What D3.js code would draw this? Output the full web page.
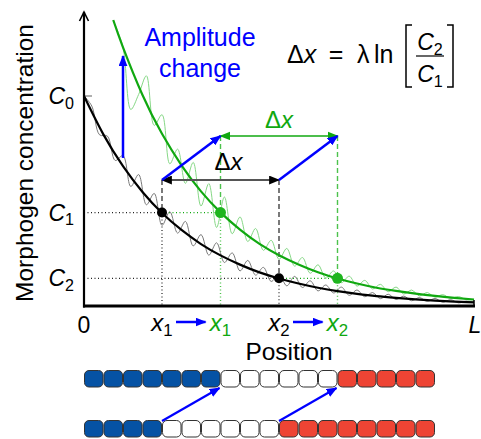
<!DOCTYPE html>
<html>
<head>
<meta charset="utf-8">
<script src="https://cdn.jsdelivr.net/npm/d3@7"></script>
<style>
  body { margin: 0; background: #fff; }
  svg { display: block; font-family: "Liberation Sans", Arial, sans-serif; }
</style>
</head>
<body>
<svg class="chart" width="481" height="439"></svg>
<script>
/*
      Data
*/
const levelNames = ["0", "1", "2"];
const levels = [1, 0.445, 0.132]; // C0, C1, C2
const xMarks = [0.2, 0.5]; // x1, x2
const shift = 0.15; // delta x

const smoothX = [0, 0.05, 0.1, 0.15, 0.2, 0.25, 0.3, 0.35, 0.4, 0.45, 0.5, 0.55, 0.6, 0.65, 0.7, 0.75, 0.8, 0.85, 0.9, 0.95, 1];
const blackSmooth = [1.0, 0.816, 0.666, 0.543, 0.443, 0.362, 0.295, 0.241, 0.197, 0.16, 0.131, 0.107, 0.087, 0.071, 0.058, 0.047, 0.039, 0.032, 0.026, 0.021, 0.017];
const greenSmoothX = [0.075, 0.1, 0.15, 0.2, 0.25, 0.3, 0.35, 0.4, 0.45, 0.5, 0.55, 0.6, 0.65, 0.7, 0.75, 0.8, 0.85, 0.9, 0.95, 1];
const greenSmooth = [1.362, 1.232, 1.005, 0.82, 0.67, 0.546, 0.446, 0.364, 0.296, 0.242, 0.198, 0.161, 0.131, 0.107, 0.087, 0.072, 0.059, 0.048, 0.039, 0.031];

// noisy profiles, sampled every 0.02 of the length
const noiseStep = 0.02;
const grayNoisy = [1.0, 0.952, 0.815, 0.809, 0.693, 0.716, 0.569, 0.626, 0.482, 0.536, 0.384, 0.449, 0.347, 0.403, 0.286, 0.34, 0.242, 0.301, 0.207, 0.253, 0.167, 0.217, 0.147, 0.184, 0.117, 0.151, 0.096, 0.141, 0.088, 0.12, 0.072, 0.1, 0.062, 0.09, 0.051, 0.076, 0.044, 0.064, 0.035, 0.056, 0.031, 0.047, 0.025, 0.04, 0.022, 0.036, 0.018, 0.03, 0.015, 0.023, 0.017];
const greenNoisyStart = 4;
const greenNoisy = [1.338, 1.232, 0.936, 1.007, 1.096, 0.86, 0.911, 0.677, 0.747, 0.584, 0.684, 0.476, 0.583, 0.374, 0.519, 0.344, 0.424, 0.307, 0.369, 0.265, 0.313, 0.222, 0.274, 0.19, 0.231, 0.156, 0.196, 0.133, 0.167, 0.111, 0.142, 0.095, 0.122, 0.081, 0.103, 0.068, 0.09, 0.057, 0.076, 0.048, 0.064, 0.042, 0.054, 0.036, 0.045, 0.03, 0.031];

// cell rows: counts of blue / white / red cells
const cellWidth = 0.05;
const rowBefore = [7, 6, 5];
const rowAfter = [4, 6, 8];

/*
      Styles
*/
const BLUE = "#0000ff";
const GREEN = "#10a810";
const LIGHT_GREEN = "#86d886";
const GRAY = "#7a7a7a";
const cellColors = ["#0552a4", "#ffffff", "#ee4434"];

const svg = d3.select(".chart");
const x = d3.scaleLinear().domain([0, 1]).range([84, 474]);
const y = d3.scaleLinear().domain([0, 1]).range([306, 96]);

// markers
const defs = svg.append("defs");
function addMarker(id, color) {
  defs
    .append("marker")
    .attr("id", id)
    .attr("viewBox", "0 0 10 8")
    .attr("markerUnits", "userSpaceOnUse")
    .attr("markerWidth", 11)
    .attr("markerHeight", 9)
    .attr("refX", 9)
    .attr("refY", 4)
    .attr("orient", "auto-start-reverse")
    .append("path")
    .attr("d", "M0,0 L10,4 L0,8 Z")
    .attr("fill", color);
}
addMarker("head-blue", BLUE);
addMarker("head-black", "#000");
addMarker("head-green", GREEN);

const g = svg.append("g");

/*
      Guides
*/
function vline(xv, y1, y2, color, dash, w) {
  g.append("line")
    .attr("x1", xv).attr("x2", xv).attr("y1", y1).attr("y2", y2)
    .attr("stroke", color).attr("stroke-width", w || 1.2)
    .attr("stroke-dasharray", dash);
}
function hline(yv, x1, x2, color, dash) {
  g.append("line")
    .attr("x1", x1).attr("x2", x2).attr("y1", yv).attr("y2", yv)
    .attr("stroke", color).attr("stroke-width", 1.2)
    .attr("stroke-dasharray", dash);
}

const yBlackArrow = y(0.6);
const yGreenArrow = y(0.81);

xMarks.forEach((xm, i) => {
  const lv = levels[i + 1];
  hline(y(lv), x(0), x(xm), "#222", "1,2.5");
  hline(y(lv), x(xm), x(xm + shift), GREEN, "1,2.5");
  vline(x(xm), yBlackArrow, y(lv), "#222", "5,3");
  vline(x(xm), y(lv), y(0), "#222", "1,2.5");
  vline(x(xm + shift), yGreenArrow, y(lv), "#4cc24c", "5,3", 1.4);
  vline(x(xm + shift), y(lv), y(0), "#4cc24c", "1,2.5", 1.4);
});

// C0 tick
hline(y(1), x(0), x(0) + 8, GRAY, null);

/*
      Profiles
*/
const noisyLine = d3.line().x((d) => x(d[0])).y((d) => y(d[1])).curve(d3.curveCatmullRom);
const smoothLine = d3.line().x((d) => x(d[0])).y((d) => y(d[1])).curve(d3.curveNatural);

g.append("path")
  .attr("d", noisyLine(grayNoisy.map((v, i) => [i * noiseStep, v])))
  .attr("fill", "none").attr("stroke", GRAY).attr("stroke-width", 1);
g.append("path")
  .attr("d", noisyLine(greenNoisy.map((v, i) => [(i + greenNoisyStart) * noiseStep, v])))
  .attr("fill", "none").attr("stroke", LIGHT_GREEN).attr("stroke-width", 1);

g.append("path")
  .attr("d", smoothLine(smoothX.map((v, i) => [v, blackSmooth[i]])))
  .attr("fill", "none").attr("stroke", "#000").attr("stroke-width", 2.2);
g.append("path")
  .attr("d", smoothLine(greenSmoothX.map((v, i) => [v, greenSmooth[i]])))
  .attr("fill", "none").attr("stroke", GREEN).attr("stroke-width", 2.2);

/*
      Axes
*/
g.append("line")
  .attr("x1", x(0)).attr("x2", x(0)).attr("y1", y(0) + 1.5).attr("y2", y(1.4))
  .attr("stroke", "#000").attr("stroke-width", 2.2);
g.append("path")
  .attr("d", `M${x(0) - 4.5},${y(1.4) + 9} L${x(0)},${y(1.4)} L${x(0) + 4.5},${y(1.4) + 9}`)
  .attr("fill", "none").attr("stroke", "#000").attr("stroke-width", 1.6);
g.append("line")
  .attr("x1", x(0) - 1).attr("x2", x(1) + 1).attr("y1", y(0)).attr("y2", y(0))
  .attr("stroke", "#000").attr("stroke-width", 3);
g.append("line")
  .attr("x1", x(1)).attr("x2", x(1)).attr("y1", y(0)).attr("y2", y(0) - 6)
  .attr("stroke", "#000").attr("stroke-width", 1.5);

/*
      Arrows
*/
function arrow(x1, y1, x2, y2, color, marker, w, both) {
  const l = g.append("line")
    .attr("x1", x1).attr("y1", y1).attr("x2", x2).attr("y2", y2)
    .attr("stroke", color).attr("stroke-width", w)
    .attr("marker-end", `url(#${marker})`);
  if (both) l.attr("marker-start", `url(#${marker})`);
}

arrow(x(xMarks[0]), yBlackArrow, x(xMarks[1]), yBlackArrow, "#555", "head-black", 2, true);
arrow(x(xMarks[0] + shift), yGreenArrow, x(xMarks[1] + shift), yGreenArrow, GREEN, "head-green", 1.5, true);
xMarks.forEach((xm) => {
  arrow(x(xm), yBlackArrow, x(xm + shift), yGreenArrow, BLUE, "head-blue", 2.5);
});
// amplitude change
arrow(x(0.1), y(0.705), x(0.1), y(1.19), BLUE, "head-blue", 2.5);

// dots
xMarks.forEach((xm, i) => {
  g.append("circle").attr("cx", x(xm)).attr("cy", y(levels[i + 1])).attr("r", 5).attr("fill", "#000");
  g.append("circle").attr("cx", x(xm + shift)).attr("cy", y(levels[i + 1])).attr("r", 5.5).attr("fill", "#1eb51e");
});

/*
      Text
*/
function mathText(px, py, parts, size, color, anchor) {
  const t = g.append("text")
    .attr("x", px).attr("y", py)
    .attr("font-size", size).attr("fill", color)
    .attr("text-anchor", anchor || "start");
  parts.forEach((p) => {
    const ts = t.append("tspan").text(p[0]);
    if (p[1] === "i") ts.attr("font-style", "italic");
    if (p[1] === "sub") ts.attr("font-size", size * 0.7).attr("dy", size * 0.2);
  });
  return t;
}

levels.forEach((lv, i) => {
  mathText(74, y(lv) + 8, [["C", "i"], [levelNames[i], "sub"]], 23, "#000", "end");
});

mathText(x(0), 333, [["0"]], 23, "#000", "middle");
mathText(x(1) + 1, 333, [["L", "i"]], 23, "#000", "middle");
xMarks.forEach((xm, i) => {
  const n = String(i + 1);
  mathText(x(xm), 331, [["x", "i"], [n, "sub"]], 24, "#000", "middle");
  mathText(x(xm + shift), 331, [["x", "i"], [n, "sub"]], 24, GREEN, "middle");
  arrow(x(xm) + 14, 322, x(xm + shift) - 15, 322, BLUE, "head-blue", 2.5);
});

mathText(x(0.35) + 8, 170, [["Δ"], ["x", "i"]], 24, "#000", "middle");
mathText(x(0.5) + 0, 128, [["Δ"], ["x", "i"]], 24, GREEN, "middle");

g.append("text").attr("x", 200).attr("y", 46).attr("font-size", 25).attr("fill", BLUE)
  .attr("text-anchor", "middle").text("Amplitude");
g.append("text").attr("x", 200).attr("y", 77).attr("font-size", 25).attr("fill", BLUE)
  .attr("text-anchor", "middle").text("change");

g.append("text")
  .attr("transform", "translate(33,163) rotate(-90)")
  .attr("font-size", 24.5).attr("text-anchor", "middle").text("Morphogen concentration");
g.append("text").attr("x", 289).attr("y", 360).attr("font-size", 24.5)
  .attr("text-anchor", "middle").text("Position");

// formula
mathText(287, 63, [["Δ"], ["x", "i"]], 25, "#000");
mathText(336, 63, [["="]], 25, "#000", "middle");
mathText(357, 63, [["λ"]], 25, "#000");
mathText(374, 63, [["ln"]], 25, "#000");
mathText(430, 50, [["C", "i"], ["2", "sub"]], 23, "#000", "middle");
mathText(430, 82, [["C", "i"], ["1", "sub"]], 23, "#000", "middle");
g.append("line").attr("x1", 416).attr("x2", 444).attr("y1", 56).attr("y2", 56)
  .attr("stroke", "#000").attr("stroke-width", 1.2);
g.append("path").attr("d", "M412,25 L406,25 L406,87 L412,87")
  .attr("fill", "none").attr("stroke", "#000").attr("stroke-width", 1.5);
g.append("path").attr("d", "M447,25 L453,25 L453,87 L447,87")
  .attr("fill", "none").attr("stroke", "#000").attr("stroke-width", 1.5);

/*
      Cell rows
*/
function cellRow(counts, top) {
  const states = counts.flatMap((c, s) => d3.range(c).map(() => s));
  g.append("g")
    .selectAll("rect")
    .data(states)
    .join("rect")
    .attr("x", (d, i) => x(i * cellWidth) + 0.5)
    .attr("y", top)
    .attr("width", x(cellWidth) - x(0) - 1)
    .attr("height", 16.5)
    .attr("rx", 4.5)
    .attr("fill", (d) => cellColors[d])
    .attr("stroke", "#333")
    .attr("stroke-width", 1);
}
cellRow(rowBefore, 370.5);
cellRow(rowAfter, 420.5);

const bndBefore = [rowBefore[0], rowBefore[0] + rowBefore[1]];
const bndAfter = [rowAfter[0], rowAfter[0] + rowAfter[1]];
bndAfter.forEach((b, i) => {
  arrow(x(b * cellWidth), 421, x(bndBefore[i] * cellWidth) - 1, 388, BLUE, "head-blue", 2.2);
});
</script>
</body>
</html>
